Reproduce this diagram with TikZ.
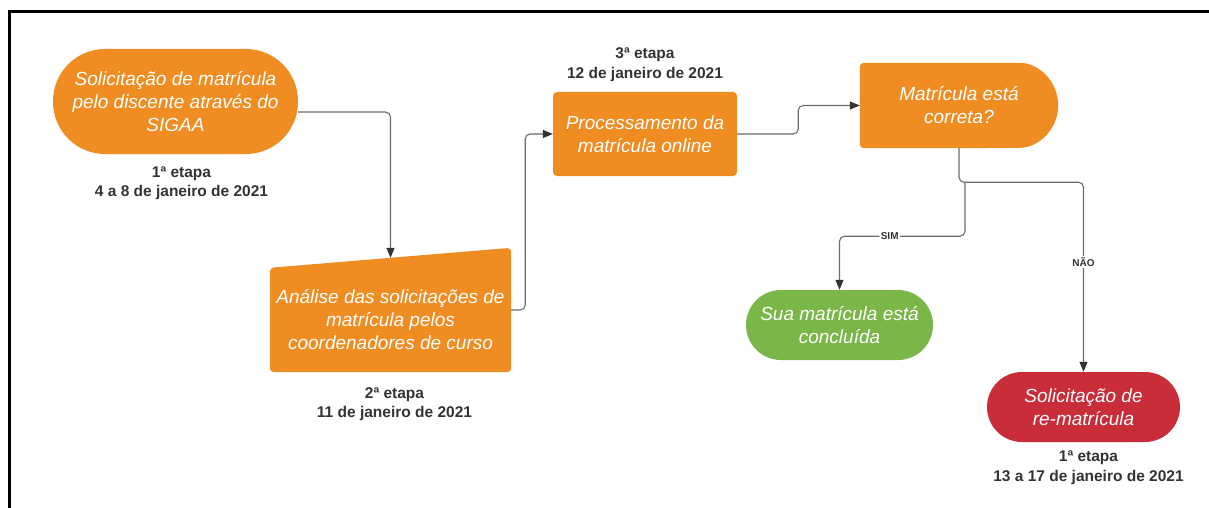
\documentclass[tikz,border=0pt]{standalone}
\usepackage{fontspec}
\setmainfont{Liberation Sans}
\usetikzlibrary{arrows.meta,positioning,backgrounds,calc}

\definecolor{lucorange}{HTML}{EF8D22}
\definecolor{lucgreen}{HTML}{7AB648}
\definecolor{lucred}{HTML}{C92D39}
\definecolor{labelgray}{HTML}{333333}
\definecolor{linegray}{HTML}{6B6B6B}

\tikzset{
  stepnode/.style={text=white, align=center, inner sep=0pt,
    font=\fontsize{19}{23}\selectfont\itshape},
  etapa/.style={text=labelgray, align=center, inner sep=0pt,
    font=\fontsize{15.5}{19.5}\selectfont\bfseries},
  flow/.style={draw=linegray, line width=1.1pt, rounded corners=5pt,
    -{Triangle[length=10pt,width=8pt,color=labelgray]}},
  answer/.style={fill=white, inner sep=1.5pt, text=labelgray,
    font=\fontsize{10}{12}\selectfont\bfseries}
}

\begin{document}
\begin{tikzpicture}[x=1pt,y=-1pt]

  \useasboundingbox (0,0) rectangle (1209,508);
  \draw[line width=3pt] (9,508)--(9,12)--(1209,12);

  % etapas
  \node[stepnode, fill=lucorange, rounded corners=52pt, minimum width=245pt, minimum height=105pt]
    (sigaa) at (175.5,101.5) {Solicitação de matrícula\\pelo discente através do\\SIGAA};
  \node[stepnode, minimum width=241pt, minimum height=104pt]
    (analise) at (390.5,320) {Análise das solicitações de\\matrícula pelos\\coordenadores de curso};
  \node[stepnode, fill=lucorange, rounded corners=4pt, minimum width=184pt, minimum height=84pt]
    (processa) at (645,134) {Processamento da\\matrícula online};
  \node[stepnode, minimum width=198pt, minimum height=85pt]
    (confere) at (959,105.5) {Matrícula está\\correta?};
  \node[stepnode, fill=lucgreen, rounded corners=35pt, minimum width=187pt, minimum height=70pt]
    (concluida) at (839.5,325) {Sua matrícula está\\concluída};
  \node[stepnode, fill=lucred, rounded corners=35pt, minimum width=193pt, minimum height=70pt]
    (rematricula) at (1083.5,407) {Solicitação de\\re-matrícula};

  \begin{scope}[on background layer]
    \fill[lucorange, rounded corners=4pt] (analise.south)--(analise.south west)--(analise.north west)
      --($(analise.north east)+(0,-20)$)--(analise.south east)--cycle;
    \fill[lucorange, rounded corners=4pt] (confere.south)--(confere.south west)
      --(confere.north west)--($(confere.north east)+(-42.5,0)$)
      arc[start angle=90, end angle=-90, radius=42.5pt]--cycle;
  \end{scope}

  % datas
  \node[etapa] (etapa1) at (181.5,183) {1ª etapa\\4 a 8 de janeiro de 2021};
  \node[etapa] (etapa2) at (394.5,404) {2ª etapa\\11 de janeiro de 2021};
  \node[etapa] (etapa3) at (645,64.5) {3ª etapa\\12 de janeiro de 2021};
  \node[etapa] (etapa4) at (1088.5,467.5) {1ª etapa\\13 a 17 de janeiro de 2021};

  % ligacoes
  \coordinate (analise-in) at ($(analise.north)+(0,-10)$);
  \coordinate (sim-split) at ($(confere.south)+(6,34)$);
  \draw[flow] ([yshift=-10.5pt]sigaa.east) -| (analise-in);
  \draw[flow] ([yshift=10pt]analise.east) -- ++(14,0) |- (processa.west);
  \draw[flow] (processa.east) -- ++(61,0) |- (confere.west);
  \draw[flow] (confere.south) -- ++(0,34) -| node[answer, pos=0.71] {NÃO} (rematricula.north);
  \draw[flow] (sim-split) -- ++(0,54) -| node[answer, pos=0.3] {SIM} (concluida.north);

\end{tikzpicture}
\end{document}
